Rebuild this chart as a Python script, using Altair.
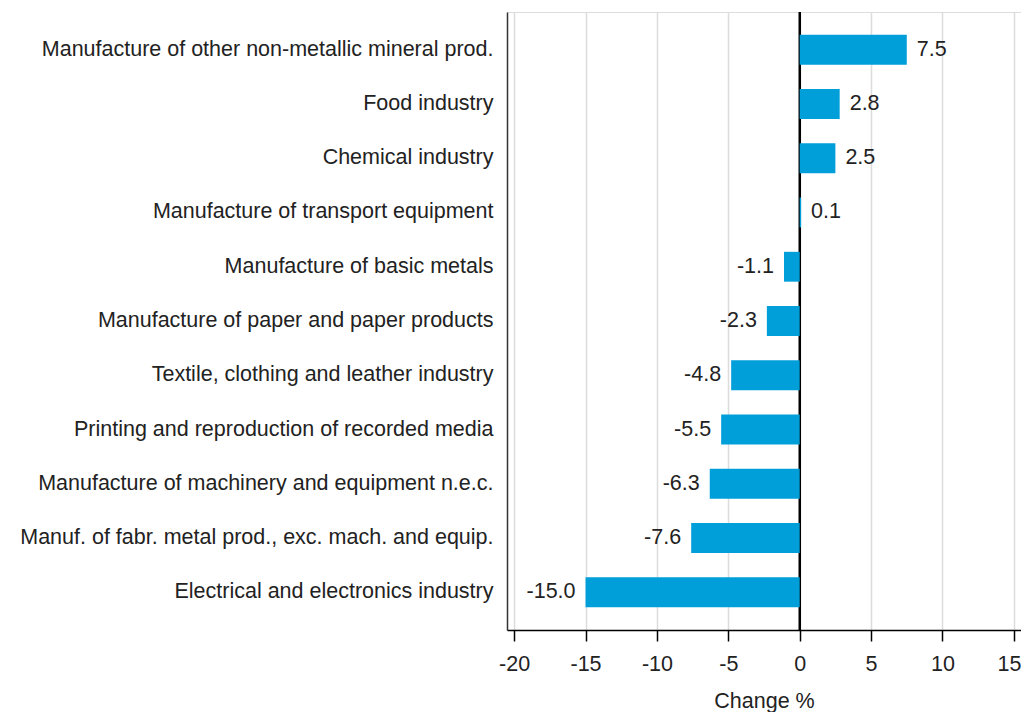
import altair as alt
import pandas as pd

categories = [
    "Manufacture of other non-metallic mineral prod.",
    "Food industry",
    "Chemical industry",
    "Manufacture of transport equipment",
    "Manufacture of basic metals",
    "Manufacture of paper and paper products",
    "Textile, clothing and leather industry",
    "Printing and reproduction of recorded media",
    "Manufacture of machinery and equipment n.e.c.",
    "Manuf. of fabr. metal prod., exc. mach. and equip.",
    "Electrical and electronics industry",
]
values = [7.5, 2.8, 2.5, 0.1, -1.1, -2.3, -4.8, -5.5, -6.3, -7.6, -15.0]
x_ticks = [-20, -15, -10, -5, 0, 5, 10, 15]

df = pd.DataFrame({"cat": categories, "val": values})

FONT = "Liberation Sans"
FS = 21.5

x_scale = alt.Scale(domain=[-20.5, 15.5], nice=False, zero=False)
y_scale = alt.Scale(domain=categories, paddingInner=0.45, paddingOuter=0.42)

base = alt.Chart(df).transform_calculate(
    lbl="replace(format(datum.val, '.1f'), '\u2212', '-')"
)

zero = alt.Chart(df).mark_rule(color="#000", strokeWidth=1.5).encode(x=alt.datum(0))

bars = base.mark_bar(color="#009FDA").encode(
    x=alt.X("val:Q", scale=x_scale, title="Change %",
            axis=alt.Axis(values=x_ticks, grid=True, gridColor="#dcdcdc", gridWidth=1.5,
                          domainColor="#000", domainWidth=1.5, tickColor="#000",
                          tickSize=11, tickWidth=1.5, labelPadding=12,
                          labelExpr="replace(datum.label, '\u2212', '-')",
                          labelAlign={"condition": {"test": "datum.value == 15", "value": "right"}, "value": "center"},
                          labelOffset={"condition": {"test": "datum.value == 15", "value": 7}, "value": 0},
                          labelFont=FONT, labelFontSize=FS, labelColor="#222",
                          titleFont=FONT, titleFontSize=FS, titleFontWeight="normal",
                          titleColor="#222", titlePadding=16)),
    y=alt.Y("cat:N", scale=y_scale, sort=categories, title=None,
            axis=alt.Axis(ticks=False, domainColor="#333", domainWidth=1.5,
                          labelPadding=14, labelFont=FONT, labelFontSize=FS,
                          labelColor="#222", labelLimit=600)),
)

pos = base.transform_filter("datum.val >= 0").mark_text(
    align="left", baseline="middle", dx=10, font=FONT, fontSize=FS, color="#222"
).encode(x=alt.X("val:Q", scale=x_scale), y=alt.Y("cat:N", scale=y_scale, sort=categories),
         text="lbl:N")

neg = base.transform_filter("datum.val < 0").mark_text(
    align="right", baseline="middle", dx=-10, font=FONT, fontSize=FS, color="#222"
).encode(x=alt.X("val:Q", scale=x_scale), y=alt.Y("cat:N", scale=y_scale, sort=categories),
         text="lbl:N")

chart = alt.layer(zero, bars, pos, neg).properties(
    width=514, height=618,
    autosize=alt.AutoSizeParams(type="none"),
    padding={"left": 499, "top": 4, "right": 0, "bottom": 82},
).configure_view(stroke=None).configure(background="white")

chart.save("out.html", embed_options={"renderer": "svg", "actions": False})
